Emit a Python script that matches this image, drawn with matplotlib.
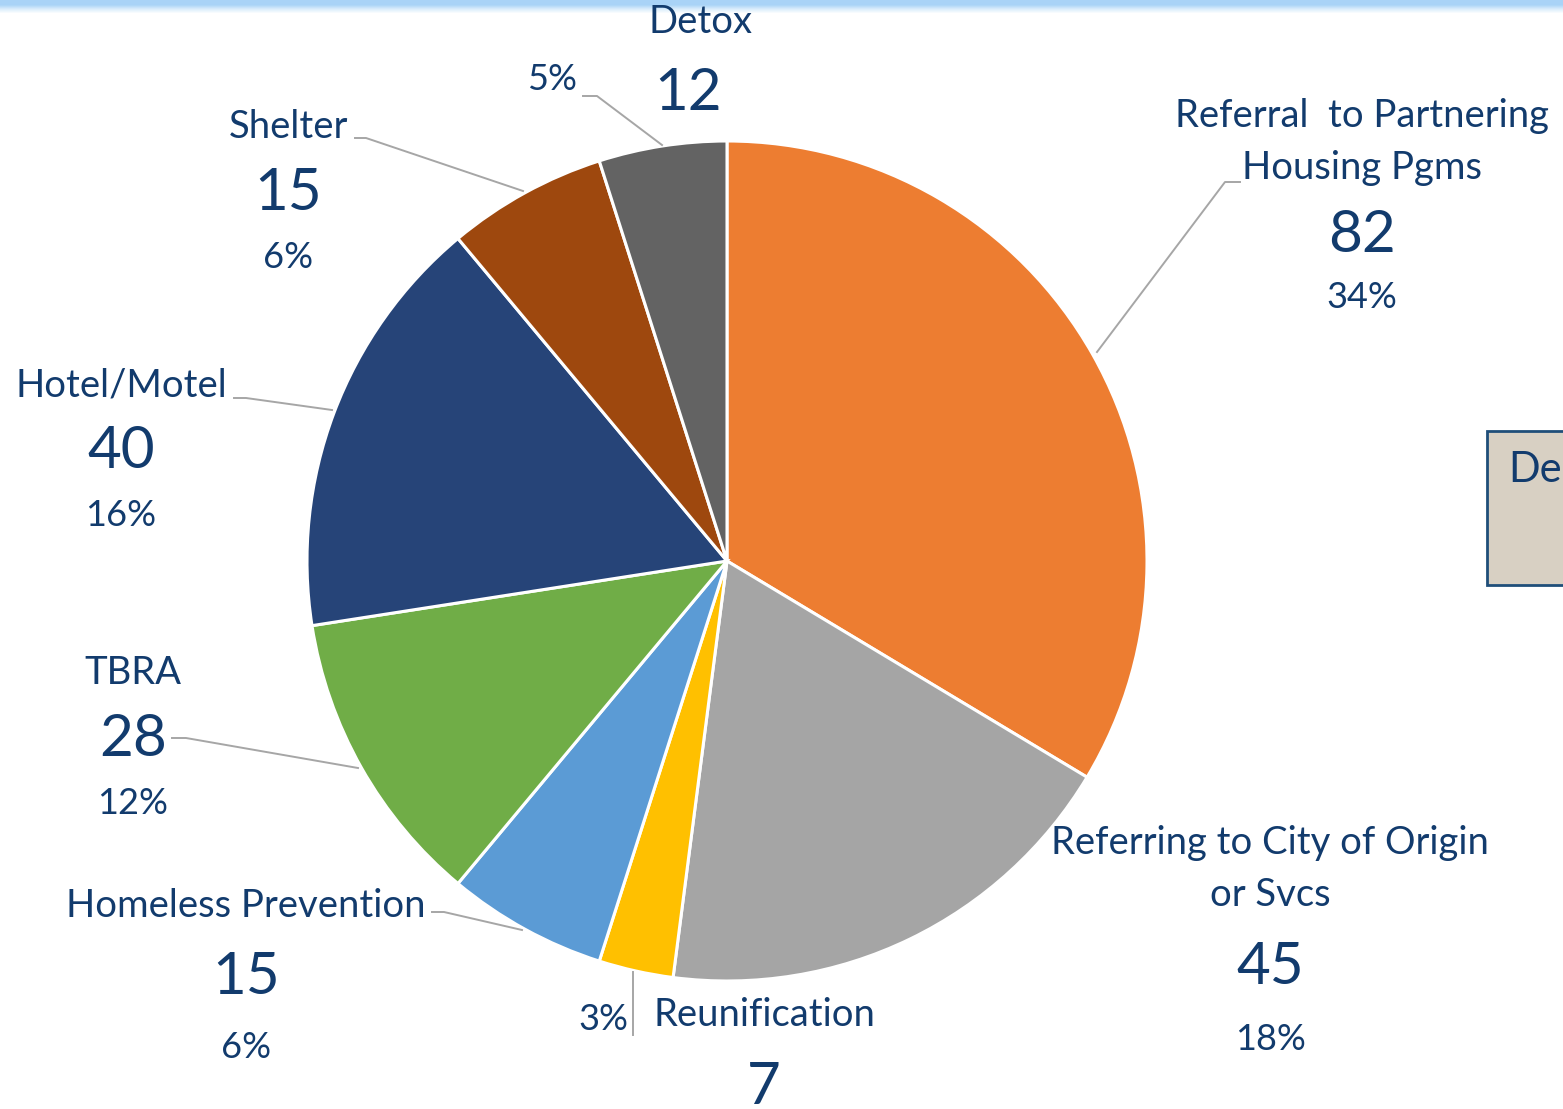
import matplotlib.pyplot as plt
import numpy as np
from matplotlib.patches import Rectangle
from matplotlib.colors import LinearSegmentedColormap

plt.rcParams["font.family"] = ["Lato", "DejaVu Sans"]

# data, clockwise from the top
categories = [
    "Referral  to Partnering\nHousing Pgms",
    "Referring to City of Origin\nor Svcs",
    "Reunification",
    "Homeless Prevention",
    "TBRA",
    "Hotel/Motel",
    "Shelter",
    "Detox",
]
counts = [82, 45, 7, 15, 28, 40, 15, 12]
pct_labels = ["34%", "18%", "3%", "6%", "12%", "16%", "6%", "5%"]
colors = ["#ED7D31", "#A5A5A5", "#FFC000", "#5B9BD5",
          "#70AD47", "#264478", "#9E480E", "#636363"]

W, H = 1563, 1109
txt = "#123B6D"
line_c = "#A6A6A6"

fig = plt.figure(figsize=(W / 100, H / 100), dpi=100)
ax = fig.add_axes([0, 0, 1, 1])

# light blue band along the top
grad = np.linspace(0, 1, 14).reshape(-1, 1)
band = LinearSegmentedColormap.from_list(
    "band", ["#A9D3F7", "#A9D3F7", "#DCEEFC", "#FFFFFF"])
ax.imshow(grad, extent=(0, W, 14, 0), cmap=band, aspect="auto", zorder=0)

ax.pie(counts, colors=colors, startangle=-90, counterclock=True,
       center=(727, 561), radius=420,
       wedgeprops=dict(edgecolor="white", linewidth=2.2), frame=True)
ax.set_xlim(0, W)
ax.set_ylim(H, 0)
ax.set_aspect("equal")
ax.axis("off")

# label layout: (x, name_y, num_y, pct_y) for stacked labels
stacked = {
    0: (1362, [116, 168], 235, 297),
    1: (1270, [843, 895], 968, 1040),
    3: (246, [906], 978, 1048),
    4: (133, [673], 740, 804),
    5: (121, [386], 452, 516),
    6: (288, [127], 193, 257),
}
name_fs, num_fs, pct_fs = 27.5, 42, 26
for i, (x, name_ys, ny, py) in stacked.items():
    for line, y in zip(categories[i].split("\n"), name_ys):
        ax.text(x, y, line, color=txt, fontsize=name_fs, ha="center", va="center")
    ax.text(x, ny, str(counts[i]), color=txt, fontsize=num_fs, ha="center", va="center")
    ax.text(x, py, pct_labels[i], color=txt, fontsize=pct_fs, ha="center", va="center")

# Detox
ax.text(701, 22, categories[7], color=txt, fontsize=name_fs, ha="center", va="center")
ax.text(688, 94, str(counts[7]), color=txt, fontsize=num_fs, ha="center", va="center")
ax.text(552, 80, pct_labels[7], color=txt, fontsize=pct_fs, ha="center", va="center")

# Reunification
ax.text(603, 1020, pct_labels[2], color=txt, fontsize=pct_fs, ha="center", va="center")
ax.text(764, 1015, categories[2], color=txt, fontsize=name_fs, ha="center", va="center")
ax.text(764, 1088, str(counts[2]), color=txt, fontsize=num_fs, ha="center", va="center")

# leader lines
leaders = [
    [(1097, 352), (1225, 182), (1240, 182)],
    [(432, 912), (444, 912), (522, 930)],
    [(172, 738), (186, 738), (358, 768)],
    [(234, 398), (246, 398), (332, 410)],
    [(355, 138), (366, 138), (523, 191)],
    [(583, 96), (597, 96), (662, 145)],
    [(633, 972), (633, 1035)],
]
for pts in leaders:
    xs, ys = zip(*pts)
    ax.plot(xs, ys, color=line_c, lw=1.4, zorder=1)

# partial box on the right edge
ax.add_patch(Rectangle((1487, 431), 120, 154, facecolor="#D8D0C3",
                       edgecolor="#1F4E79", lw=2, zorder=2))
ax.text(1508, 470, "Dec", color=txt, fontsize=30, ha="left", va="center", zorder=3)

fig.savefig("out.png", dpi=100)
